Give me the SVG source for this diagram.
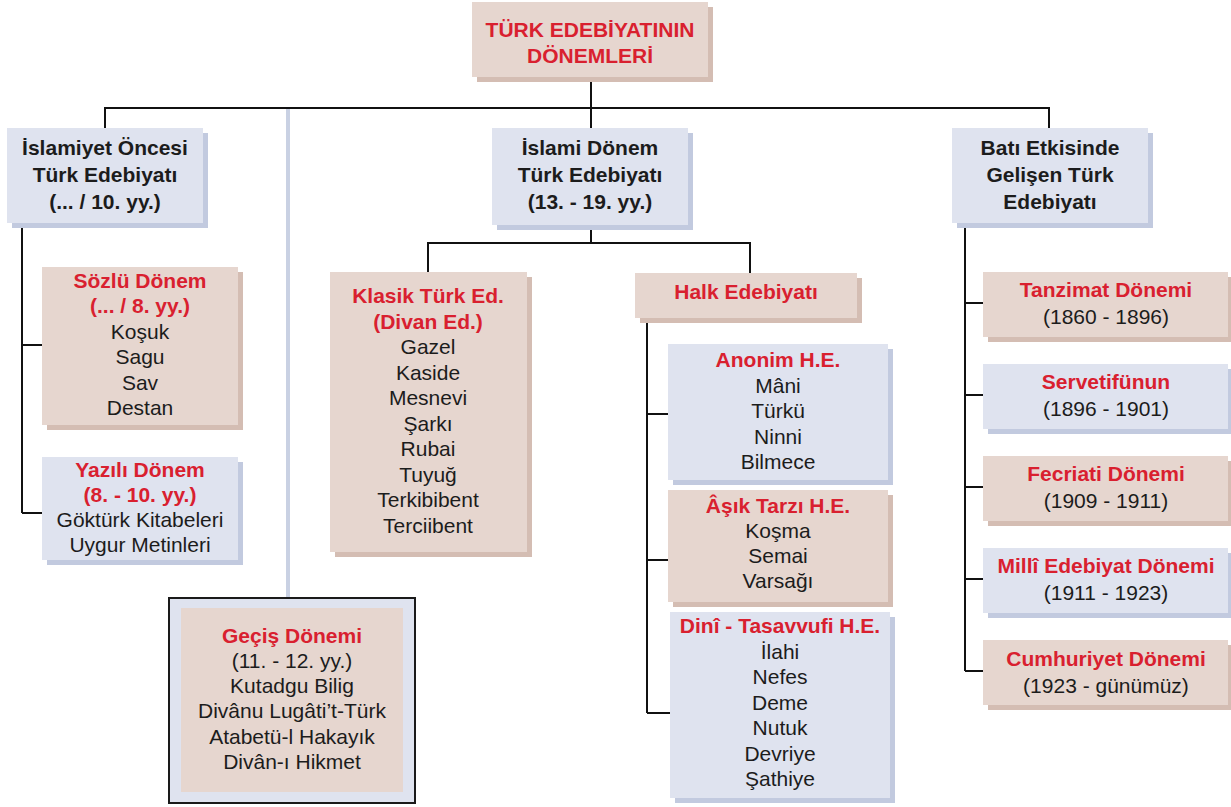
<svg xmlns="http://www.w3.org/2000/svg" width="1231" height="807" viewBox="0 0 1231 807">
<style>
.bg{fill:#e6d6cf}
.bgs{fill:#d4bdb3}
.bl{fill:#dfe3ef}
.bls{fill:#c2cadf}
text{font-family:"Liberation Sans",Arial,sans-serif;font-size:21px;text-anchor:middle;fill:#1c1c1c}
.h{font-weight:bold;fill:#d9202f}
.k{font-weight:bold;fill:#1c1c1c}
.c{fill:none;stroke:#111;stroke-width:2}
</style>
<rect width="1231" height="807" fill="#ffffff"/>

<g id="connectors">
  <path d="M288 109 V598" fill="none" stroke="#c9d1e3" stroke-width="4"/>
  <path class="c" d="M591 77 V108 M105 128 V108 H1049 V128 M591 108 V128"/>
  <path class="c" d="M22 223 V513 M22 345 H42 M22 513 H42"/>
  <path class="c" d="M591 225 V243 M428 272 V243 H750 V273"/>
  <path class="c" d="M647 318 V713 M647 414 H668 M647 560 H668 M647 713 H670"/>
  <path class="c" d="M965 223 V671 M965 303 H983 M965 395 H983 M965 487 H983 M965 579 H983 M965 671 H983"/>
</g>

<g id="n-title">
  <rect class="bgs" x="477" y="7" width="236" height="75"/>
  <rect class="bg" x="472" y="2" width="236" height="75"/>
  <text class="h" x="590" y="37">TÜRK EDEBİYATININ</text>
  <text class="h" x="590" y="63">DÖNEMLERİ</text>
</g>

<g id="n-islamiyet-oncesi">
  <rect class="bls" x="12" y="133" width="196" height="95"/>
  <rect class="bl" x="7" y="128" width="196" height="95"/>
  <text class="k" x="105" y="155">İslamiyet Öncesi</text>
  <text class="k" x="105" y="182">Türk Edebiyatı</text>
  <text class="k" x="105" y="209">(... / 10. yy.)</text>
</g>

<g id="n-sozlu">
  <rect class="bgs" x="47" y="272" width="196" height="158"/>
  <rect class="bg" x="42" y="267" width="196" height="158"/>
  <text class="h" x="140" y="288">Sözlü Dönem</text>
  <text class="h" x="140" y="313.4">(... / 8. yy.)</text>
  <text x="140" y="338.8">Koşuk</text>
  <text x="140" y="364.2">Sagu</text>
  <text x="140" y="389.6">Sav</text>
  <text x="140" y="415">Destan</text>
</g>

<g id="n-yazili">
  <rect class="bls" x="47" y="462" width="196" height="103"/>
  <rect class="bl" x="42" y="457" width="196" height="103"/>
  <text class="h" x="140" y="477">Yazılı Dönem</text>
  <text class="h" x="140" y="502">(8. - 10. yy.)</text>
  <text x="140" y="527">Göktürk Kitabeleri</text>
  <text x="140" y="552">Uygur Metinleri</text>
</g>

<g id="n-gecis">
  <rect x="169" y="598" width="246" height="205" fill="#dfe3ef" stroke="#1a1a1a" stroke-width="2"/>
  <rect class="bg" x="181" y="608" width="222" height="184"/>
  <text class="h" x="292" y="643">Geçiş Dönemi</text>
  <text x="292" y="668">(11. - 12. yy.)</text>
  <text x="292" y="693">Kutadgu Bilig</text>
  <text x="292" y="718">Divânu Lugâti’t-Türk</text>
  <text x="292" y="743.5">Atabetü-l Hakayık</text>
  <text x="292" y="769">Divân-ı Hikmet</text>
</g>

<g id="n-islami">
  <rect class="bls" x="497" y="133" width="196" height="97"/>
  <rect class="bl" x="492" y="128" width="196" height="97"/>
  <text class="k" x="590" y="155">İslami Dönem</text>
  <text class="k" x="590" y="182">Türk Edebiyatı</text>
  <text class="k" x="590" y="209">(13. - 19. yy.)</text>
</g>

<g id="n-klasik">
  <rect class="bgs" x="335" y="277" width="197" height="280"/>
  <rect class="bg" x="330" y="272" width="197" height="280"/>
  <text class="h" x="428" y="303">Klasik Türk Ed.</text>
  <text class="h" x="428" y="328.5">(Divan Ed.)</text>
  <text x="428" y="354">Gazel</text>
  <text x="428" y="379.5">Kaside</text>
  <text x="428" y="405">Mesnevi</text>
  <text x="428" y="430.5">Şarkı</text>
  <text x="428" y="456">Rubai</text>
  <text x="428" y="481.5">Tuyuğ</text>
  <text x="428" y="507">Terkibibent</text>
  <text x="428" y="532.5">Terciibent</text>
</g>

<g id="n-halk">
  <rect class="bgs" x="640" y="278" width="222" height="45"/>
  <rect class="bg" x="635" y="273" width="222" height="45"/>
  <text class="h" x="746" y="299">Halk Edebiyatı</text>
</g>

<g id="n-anonim">
  <rect class="bls" x="673" y="349" width="220" height="136"/>
  <rect class="bl" x="668" y="344" width="220" height="136"/>
  <text class="h" x="778" y="367">Anonim H.E.</text>
  <text x="778" y="392.5">Mâni</text>
  <text x="778" y="418">Türkü</text>
  <text x="778" y="443.5">Ninni</text>
  <text x="778" y="469">Bilmece</text>
</g>

<g id="n-asik">
  <rect class="bgs" x="673" y="495" width="220" height="112"/>
  <rect class="bg" x="668" y="490" width="220" height="112"/>
  <text class="h" x="778" y="513">Âşık Tarzı H.E.</text>
  <text x="778" y="538">Koşma</text>
  <text x="778" y="563">Semai</text>
  <text x="778" y="588">Varsağı</text>
</g>

<g id="n-dini">
  <rect class="bls" x="675" y="617" width="220" height="186"/>
  <rect class="bl" x="670" y="612" width="220" height="186"/>
  <text class="h" x="780" y="633">Dinî - Tasavvufi H.E.</text>
  <text x="780" y="658.5">İlahi</text>
  <text x="780" y="684">Nefes</text>
  <text x="780" y="709.5">Deme</text>
  <text x="780" y="735">Nutuk</text>
  <text x="780" y="760.5">Devriye</text>
  <text x="780" y="786">Şathiye</text>
</g>

<g id="n-bati">
  <rect class="bls" x="957" y="133" width="196" height="95"/>
  <rect class="bl" x="952" y="128" width="196" height="95"/>
  <text class="k" x="1050" y="155">Batı Etkisinde</text>
  <text class="k" x="1050" y="182">Gelişen Türk</text>
  <text class="k" x="1050" y="209">Edebiyatı</text>
</g>

<g id="n-tanzimat">
  <rect class="bgs" x="988" y="277" width="245" height="65"/>
  <rect class="bg" x="983" y="272" width="245" height="65"/>
  <text class="h" x="1106" y="297">Tanzimat Dönemi</text>
  <text x="1106" y="324">(1860 - 1896)</text>
</g>

<g id="n-servetifunun">
  <rect class="bls" x="988" y="369" width="245" height="65"/>
  <rect class="bl" x="983" y="364" width="245" height="65"/>
  <text class="h" x="1106" y="389">Servetifünun</text>
  <text x="1106" y="416">(1896 - 1901)</text>
</g>

<g id="n-fecriati">
  <rect class="bgs" x="988" y="461" width="245" height="65"/>
  <rect class="bg" x="983" y="456" width="245" height="65"/>
  <text class="h" x="1106" y="481">Fecriati Dönemi</text>
  <text x="1106" y="508">(1909 - 1911)</text>
</g>

<g id="n-milli">
  <rect class="bls" x="988" y="553" width="245" height="65"/>
  <rect class="bl" x="983" y="548" width="245" height="65"/>
  <text class="h" x="1106" y="573">Millî Edebiyat Dönemi</text>
  <text x="1106" y="600">(1911 - 1923)</text>
</g>

<g id="n-cumhuriyet">
  <rect class="bgs" x="988" y="645" width="245" height="65"/>
  <rect class="bg" x="983" y="640" width="245" height="65"/>
  <text class="h" x="1106" y="666">Cumhuriyet Dönemi</text>
  <text x="1106" y="693">(1923 - günümüz)</text>
</g>
</svg>
